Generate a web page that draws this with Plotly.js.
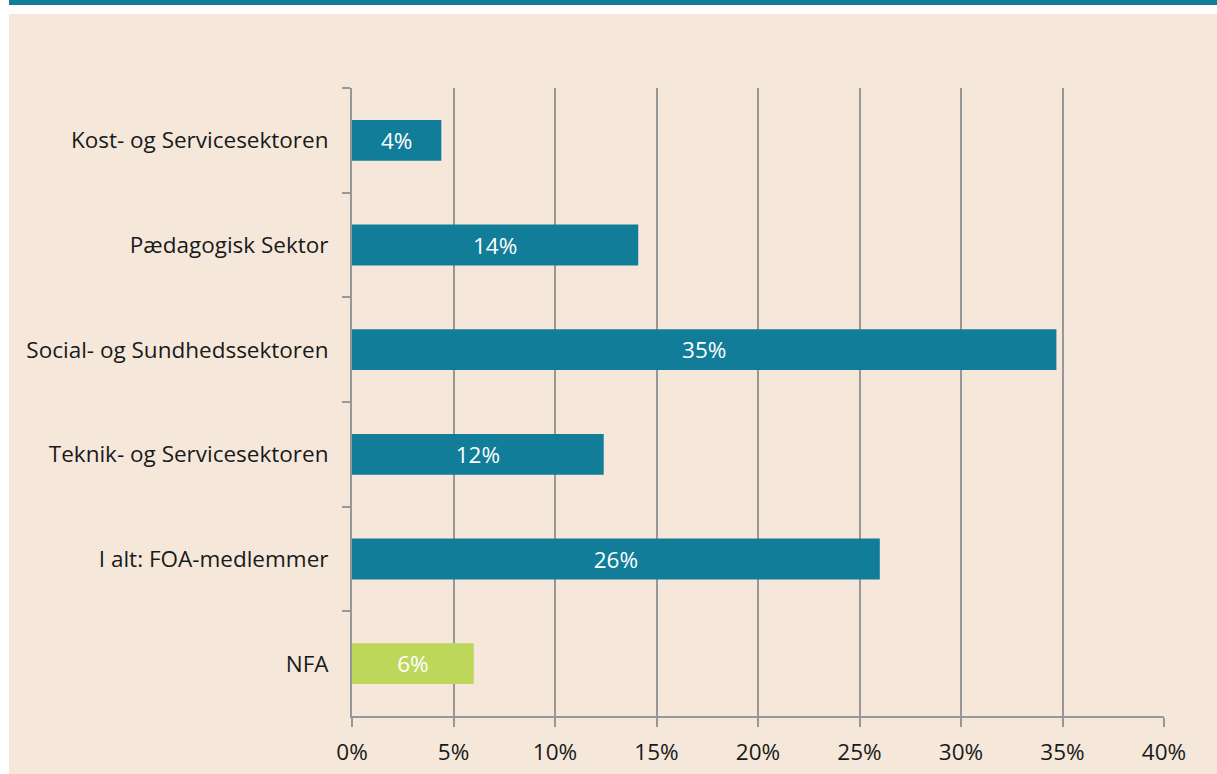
<!DOCTYPE html>
<html>
<head>
<meta charset="utf-8">
<script src="https://cdn.plot.ly/plotly-3.0.1.min.js"></script>
<style>
  html, body { margin: 0; padding: 0; background: #ffffff; width: 1217px; height: 774px; overflow: hidden; }
  #topbar { position: absolute; left: 9px; top: 0; width: 1208px; height: 5px; background: #117d99; }
  #chart { position: absolute; left: 9px; top: 14px; width: 1208px; height: 760px; }
</style>
</head>
<body>
<div id="topbar"></div>
<div id="chart"></div>
<script>
const categories = [
  "Kost- og Servicesektoren",
  "Pædagogisk Sektor",
  "Social- og Sundhedssektoren",
  "Teknik- og Servicesektoren",
  "I alt: FOA-medlemmer",
  "NFA"
];
const values = [0.044, 0.141, 0.347, 0.124, 0.260, 0.060];
const labels = ["4%", "14%", "35%", "12%", "26%", "6%"];
const barColors = ["#117d99", "#117d99", "#117d99", "#117d99", "#117d99", "#bdd75a"];
const xTicks = [0, 0.05, 0.10, 0.15, 0.20, 0.25, 0.30, 0.35, 0.40];
const xTickText = ["0%", "5%", "10%", "15%", "20%", "25%", "30%", "35%", "40%"];

const font = "'Open Sans', 'Noto Sans', sans-serif";
const fs = 22.5;

const trace = {
  type: "bar",
  orientation: "h",
  y: categories,
  x: values,
  text: labels,
  textposition: "inside",
  insidetextanchor: "middle",
  constraintext: "none",
  textfont: { family: font, size: fs, color: "#ffffff" },
  marker: { color: barColors, line: { width: 0 } },
  width: 0.39,
  hoverinfo: "none"
};

const layout = {
  width: 1208,
  height: 760,
  paper_bgcolor: "#f5e8db",
  plot_bgcolor: "#f5e8db",
  margin: { l: 343, r: 53, t: 74, b: 58 },
  showlegend: false,
  font: { family: font, size: fs, color: "#1a1a1a" },
  xaxis: {
    range: [0, 0.40],
    tickvals: xTicks,
    ticktext: xTickText,
    showgrid: true,
    gridcolor: "#979797",
    gridwidth: 2,
    zeroline: false,
    showline: true,
    linecolor: "#979797",
    linewidth: 2,
    ticks: "outside",
    ticklen: 9,
    tickwidth: 2,
    tickcolor: "#979797",
    ticklabelstandoff: 6,
    tickfont: { family: font, size: fs, color: "#1a1a1a" },
    fixedrange: true
  },
  yaxis: {
    type: "category",
    categoryorder: "array",
    categoryarray: categories,
    autorange: "reversed",
    showgrid: false,
    zeroline: false,
    showline: true,
    linecolor: "#979797",
    linewidth: 2,
    ticks: "outside",
    tickson: "boundaries",
    ticklen: 8,
    tickwidth: 2,
    tickcolor: "#979797",
    ticklabelstandoff: 17,
    tickfont: { family: font, size: fs, color: "#1a1a1a" },
    fixedrange: true
  }
};

Plotly.newPlot("chart", [trace], layout, { displayModeBar: false, staticPlot: true });
</script>
</body>
</html>
